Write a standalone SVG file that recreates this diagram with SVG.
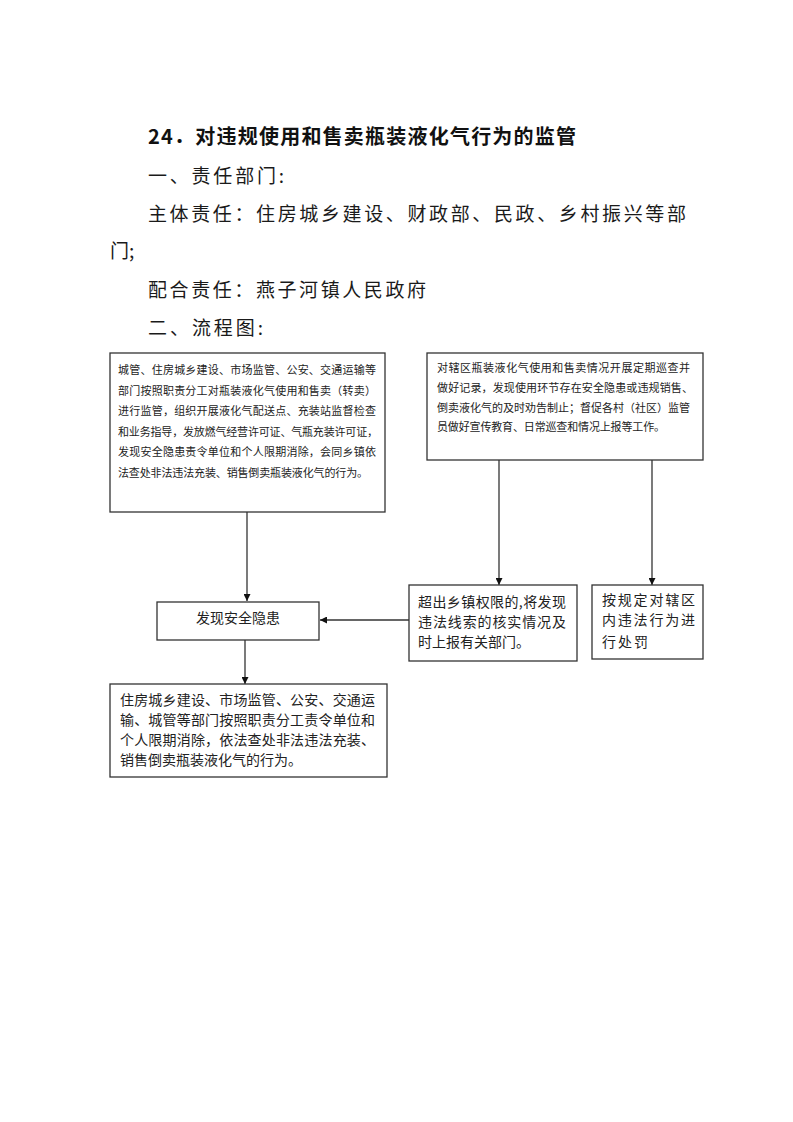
<svg xmlns="http://www.w3.org/2000/svg" width="793" height="1122" viewBox="0 0 793 1122">
<style>
.bg{fill:#fff}
.box{fill:#fff;stroke:#333;stroke-width:1.3}
.h{font-family:"Noto Sans CJK SC","Liberation Sans",sans-serif;font-size:19px;fill:#1a1a1a}
.t{font-family:"Noto Sans CJK SC","Liberation Sans",sans-serif;font-size:20px;font-weight:bold;fill:#111}
.s{font-family:"Noto Sans CJK SC","Liberation Sans",sans-serif;font-size:11px;fill:#222}
.m{font-family:"Noto Sans CJK SC","Liberation Sans",sans-serif;font-size:14px;fill:#222}
.c{stroke:#333;stroke-width:1.3;fill:none}
</style>
<defs>
<marker id="ar" viewBox="0 0 10 10" refX="10" refY="5" markerWidth="7" markerHeight="7" markerUnits="userSpaceOnUse" orient="auto">
<path d="M0,0 L10,5 L0,10 z" fill="#111"/>
</marker>
</defs>
<rect class="bg" x="0" y="0" width="793" height="1122"/>
<g id="header">
<text class="t" x="148" y="144" textLength="428" lengthAdjust="spacing">24．对违规使用和售卖瓶装液化气行为的监管</text>
<text class="h" x="148" y="183" textLength="136" lengthAdjust="spacing">一、责任部门:</text>
<text class="h" x="148" y="221" textLength="538" lengthAdjust="spacing">主体责任：住房城乡建设、财政部、民政、乡村振兴等部</text>
<text class="h" x="110" y="258">门;</text>
<text class="h" x="148" y="297" textLength="278" lengthAdjust="spacing">配合责任：燕子河镇人民政府</text>
<text class="h" x="148" y="335" textLength="115" lengthAdjust="spacing">二、流程图:</text>
</g>
<g id="connectors">
<line class="c" x1="247" y1="512" x2="247" y2="601" marker-end="url(#ar)"/>
<line class="c" x1="499" y1="460" x2="499" y2="585" marker-end="url(#ar)"/>
<line class="c" x1="652" y1="460" x2="652" y2="585" marker-end="url(#ar)"/>
<line class="c" x1="409" y1="620" x2="320" y2="620" marker-end="url(#ar)"/>
<line class="c" x1="245" y1="640" x2="245" y2="684" marker-end="url(#ar)"/>
</g>
<g id="node1">
<rect class="box" x="110" y="353" width="275" height="159"/>
<text class="s" x="118" y="374" textLength="258" lengthAdjust="spacing">城管、住房城乡建设、市场监管、公安、交通运输等</text>
<text class="s" x="118" y="394.5" textLength="258" lengthAdjust="spacing">部门按照职责分工对瓶装液化气使用和售卖（转卖）</text>
<text class="s" x="118" y="415" textLength="258" lengthAdjust="spacing">进行监管，组织开展液化气配送点、充装站监督检查</text>
<text class="s" x="118" y="435.5" textLength="260" lengthAdjust="spacing">和业务指导，发放燃气经营许可证、气瓶充装许可证，</text>
<text class="s" x="118" y="456" textLength="258" lengthAdjust="spacing">发现安全隐患责令单位和个人限期消除，会同乡镇依</text>
<text class="s" x="118" y="476.5" textLength="250" lengthAdjust="spacing">法查处非法违法充装、销售倒卖瓶装液化气的行为。</text>
</g>
<g id="node2">
<rect class="box" x="427" y="353" width="276" height="107"/>
<text class="s" x="437" y="372" textLength="253" lengthAdjust="spacing">对辖区瓶装液化气使用和售卖情况开展定期巡查并</text>
<text class="s" x="437" y="392" textLength="256" lengthAdjust="spacing">做好记录，发现使用环节存在安全隐患或违规销售、</text>
<text class="s" x="437" y="412" textLength="253" lengthAdjust="spacing">倒卖液化气的及时劝告制止；督促各村（社区）监管</text>
<text class="s" x="437" y="431" textLength="228" lengthAdjust="spacing">员做好宣传教育、日常巡查和情况上报等工作。</text>
</g>
<g id="node3">
<rect class="box" x="157" y="602" width="162" height="38"/>
<text class="m" x="238" y="623" text-anchor="middle">发现安全隐患</text>
</g>
<g id="node4">
<rect class="box" x="409" y="585" width="168" height="76"/>
<text class="m" x="418" y="607" textLength="148" lengthAdjust="spacing">超出乡镇权限的,将发现</text>
<text class="m" x="418" y="627" textLength="148" lengthAdjust="spacing">违法线索的核实情况及</text>
<text class="m" x="418" y="647">时上报有关部门。</text>
</g>
<g id="node5">
<rect class="box" x="592" y="585" width="111" height="74"/>
<text class="m" x="602" y="605" textLength="93" lengthAdjust="spacing">按规定对辖区</text>
<text class="m" x="602" y="625" textLength="93" lengthAdjust="spacing">内违法行为进</text>
<text class="m" x="602" y="647" textLength="46" lengthAdjust="spacing">行处罚</text>
</g>
<g id="node6">
<rect class="box" x="110" y="684" width="277" height="93"/>
<text class="m" x="120" y="705" textLength="255" lengthAdjust="spacing">住房城乡建设、市场监管、公安、交通运</text>
<text class="m" x="120" y="725" textLength="255" lengthAdjust="spacing">输、城管等部门按照职责分工责令单位和</text>
<text class="m" x="120" y="745" textLength="255" lengthAdjust="spacing">个人限期消除，依法查处非法违法充装、</text>
<text class="m" x="120" y="765">销售倒卖瓶装液化气的行为。</text>
</g>
</svg>
